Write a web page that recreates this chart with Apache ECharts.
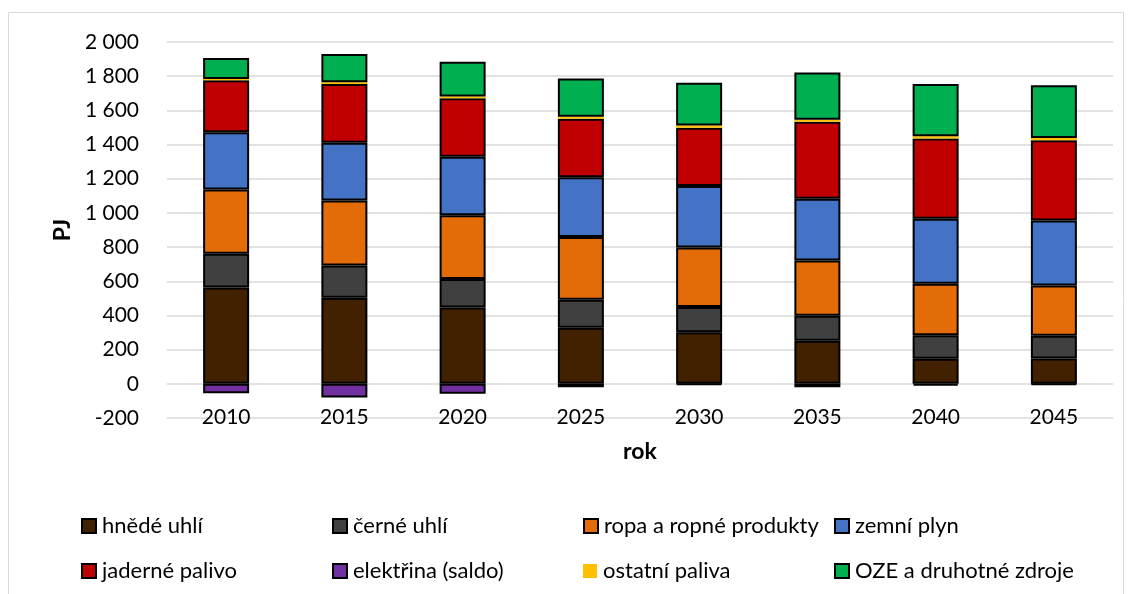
<!DOCTYPE html>
<html>
<head>
<meta charset="utf-8">
<script src="https://cdn.jsdelivr.net/npm/echarts@6/dist/echarts.min.js"></script>
<style>
html,body{margin:0;padding:0;background:#fff;}
#c{width:1132px;height:594px;}
</style>
</head>
<body>
<div id="c"></div>
<script>
var categories = ['2010','2015','2020','2025','2030','2035','2040','2045'];
var seriesNames = ['hnědé uhlí','černé uhlí','ropa a ropné produkty','zemní plyn','jaderné palivo','elektřina (saldo)','ostatní paliva','OZE a druhotné zdroje'];
var hnedeUhli   = [564, 503, 447, 328, 302, 252, 146, 148];
var cerneUhli   = [197, 189, 166, 164, 148, 146, 138, 133];
var ropa        = [376, 380, 374, 367, 347, 324, 302, 294];
var zemniPlyn   = [335, 339, 341, 349, 361, 361, 380, 380];
var jaderne     = [304, 343, 343, 343, 341, 450, 470, 470];
var elektrina   = [-55, -80, -58, -20, -5, -20, -10, -5];
var ostatni     = [8, 10, 10, 12, 12, 12, 12, 14];
var oze         = [123, 166, 203, 224, 250, 276, 306, 308];
var colors = ['#412100','#404040','#E36C09','#4472C4','#C00000','#7030A0','#FFC000','#00B050'];
var values = [hnedeUhli, cerneUhli, ropa, zemniPlyn, jaderne, elektrina, ostatni, oze];

var FONT = 'Lato, "Open Sans", sans-serif';
var chart = echarts.init(document.getElementById('c'), null, {renderer:'canvas'});

var series = seriesNames.map(function(n, i){
  var noBorder = (n === 'ostatní paliva');
  return {
    name: n, type: 'bar', stack: 'total', data: values[i],
    barWidth: 46,
    itemStyle: {color: colors[i], borderColor: noBorder ? colors[i] : '#000', borderWidth: noBorder ? 0 : 2},
    emphasis: {disabled: true}
  };
});

var legendLeft = [81, 332, 583, 834];
var legendTop = [515, 560];
var legends = seriesNames.map(function(n, i){
  return {
    data: [n],
    left: legendLeft[i % 4],
    top: legendTop[Math.floor(i / 4)],
    padding: 0,
    itemWidth: 14, itemHeight: 14,
    itemGap: 0,
    icon: 'rect',
    selectedMode: false,
    textStyle: {fontFamily: FONT, fontSize: 22, color: '#000', padding: [0,0,0,1]}
  };
});

chart.setOption({
  animation: false,
  backgroundColor: '#fff',
  color: colors,
  graphic: [{
    type: 'rect', shape: {x: 8.5, y: 12.5, width: 1115, height: 600},
    style: {fill: 'none', stroke: '#d9d9d9', lineWidth: 1}, silent: true, z: -1
  }],
  legend: legends,
  grid: {left: 167, top: 42, width: 946, height: 376, containLabel: false},
  xAxis: {
    type: 'category', data: categories,
    name: 'rok', nameLocation: 'middle', nameGap: 22,
    nameTextStyle: {fontFamily: FONT, fontSize: 23, fontWeight: 'bold', color: '#000'},
    axisLine: {show: false}, axisTick: {show: false},
    axisLabel: {fontFamily: FONT, fontSize: 21, color: '#000', margin: -11}
  },
  yAxis: {
    type: 'value', min: -200, max: 2000, interval: 200,
    name: 'PJ', nameLocation: 'middle', nameGap: 92, nameRotate: 90,
    nameTextStyle: {fontFamily: FONT, fontSize: 23, fontWeight: 'bold', color: '#000'},
    axisLine: {show: false}, axisTick: {show: false},
    splitLine: {lineStyle: {color: '#d9d9d9', width: 1.5}},
    axisLabel: {
      fontFamily: FONT, fontSize: 21, color: '#000', margin: 28,
      formatter: function(v){ return String(v).replace(/\B(?=(\d{3})+(?!\d))/g, ' '); }
    }
  },
  series: series
});
</script>
</body>
</html>
